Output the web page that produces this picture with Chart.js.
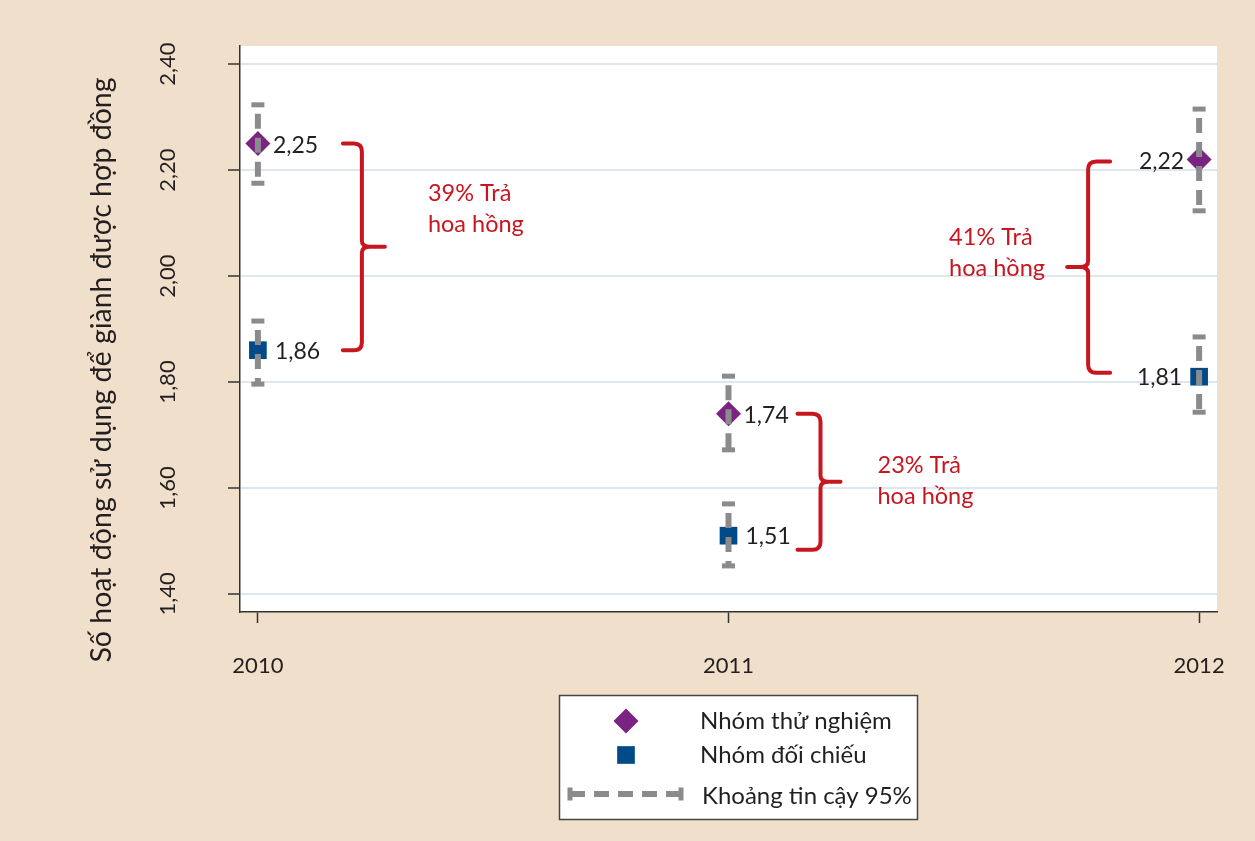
<!DOCTYPE html>
<html>
<head>
<meta charset="utf-8">
<script src="https://cdn.jsdelivr.net/npm/chart.js@4.4.1/dist/chart.umd.min.js"></script>
<style>
    html, body { margin: 0; padding: 0; background: #f0dfca; }
    canvas { display: block; }
</style>
</head>
<body>
<canvas id="gapChart" width="1255" height="841"></canvas>
<script>
// Data
var years = [2010, 2011, 2012];
var treatment = [2.25, 1.74, 2.22];
var treatmentLow = [2.175, 1.672, 2.123];
var treatmentHigh = [2.323, 1.811, 2.315];
var control = [1.86, 1.51, 1.81];
var controlLow = [1.796, 1.453, 1.743];
var controlHigh = [1.915, 1.570, 1.885];
var yTicks = [1.4, 1.6, 1.8, 2.0, 2.2, 2.4];
var gapLabels = [['39% Trả', 'hoa hồng'], ['23% Trả', 'hoa hồng'], ['41% Trả', 'hoa hồng']];
var seriesNames = ['Nhóm thử nghiệm', 'Nhóm đối chiếu', 'Khoảng tin cậy 95%'];
var yTitle = 'Số hoạt động sử dụng để giành được hợp đồng';

var colors = {
    bg: '#f0dfca',
    purple: '#7b2382',
    navy: '#004b87',
    gray: '#8b8b8d',
    red: '#c8161f',
    grid: '#dde7ef',
    axis: '#333333',
    text: '#231f20'
};
var FONT = 'Lato, "Open Sans", sans-serif';

// pixel styling for the braces (offsets from the year position)
var braceStyle = [
    { start: 85, spine: 104, tip: 127, padTop: 0, padBot: 0, textX: 170, textY: [-53, -22] },
    { start: 69, spine: 92, tip: 112, padTop: 0, padBot: 14, textX: 149, textY: [-16, 15] },
    { start: -89, spine: -111, tip: -132, padTop: 2, padBot: -4, textX: -250, textY: [-30, 1] }
];
// point value labels: which side of the marker
var labelSide = [1, 1, -1];

function fmt(v) {
    return v.toFixed(2).replace('.', ',');
}

function drawInterval(ctx, x1, y1, x2, y2, dashOffset) {
    var len = Math.hypot(x2 - x1, y2 - y1);
    ctx.save();
    ctx.translate(x1, y1);
    ctx.rotate(Math.atan2(y2 - y1, x2 - x1));
    ctx.strokeStyle = colors.gray;
    ctx.fillStyle = colors.gray;
    ctx.lineWidth = 6;
    ctx.setLineDash([15, 9]);
    ctx.lineDashOffset = dashOffset;
    ctx.beginPath();
    ctx.moveTo(0, 0);
    ctx.lineTo(len, 0);
    ctx.stroke();
    ctx.fillRect(-2.5, -6.5, 5, 13);
    ctx.fillRect(len - 2.5, -6.5, 5, 13);
    ctx.restore();
}

function drawBrace(ctx, xStart, xSpine, xTip, yTop, yBot) {
    var d = xSpine > xStart ? 1 : -1;
    var r = 8;
    var mid = (yTop + yBot) / 2;
    ctx.save();
    ctx.strokeStyle = colors.red;
    ctx.lineWidth = 4;
    ctx.lineCap = 'round';
    ctx.lineJoin = 'round';
    ctx.beginPath();
    ctx.moveTo(xStart, yTop);
    ctx.lineTo(xSpine - d * r, yTop);
    ctx.quadraticCurveTo(xSpine, yTop, xSpine, yTop + r);
    ctx.lineTo(xSpine, mid - 6);
    ctx.quadraticCurveTo(xSpine, mid, xSpine + d * 8, mid);
    ctx.lineTo(xTip, mid);
    ctx.moveTo(xSpine + d * 8, mid);
    ctx.quadraticCurveTo(xSpine, mid, xSpine, mid + 6);
    ctx.lineTo(xSpine, yBot - r);
    ctx.quadraticCurveTo(xSpine, yBot, xSpine - d * r, yBot);
    ctx.lineTo(xStart, yBot);
    ctx.stroke();
    ctx.restore();
}

var backgroundPlugin = {
    id: 'background',
    beforeDraw: function (chart) {
        var ctx = chart.ctx;
        var a = chart.chartArea;
        ctx.save();
        ctx.fillStyle = colors.bg;
        ctx.fillRect(0, 0, chart.width, chart.height);
        ctx.fillStyle = '#ffffff';
        ctx.fillRect(a.left, a.top, a.right - a.left, a.bottom - a.top);
        ctx.restore();
    }
};

var overlayPlugin = {
    id: 'overlay',
    afterDatasetsDraw: function (chart) {
        var ctx = chart.ctx;
        var xs = chart.scales.x;
        var ys = chart.scales.y;

        // confidence intervals, drawn over the markers
        years.forEach(function (yr, i) {
            var px = xs.getPixelForValue(yr);
            drawInterval(ctx, px, ys.getPixelForValue(treatmentHigh[i]), px, ys.getPixelForValue(treatmentLow[i]), 15);
            drawInterval(ctx, px, ys.getPixelForValue(controlHigh[i]), px, ys.getPixelForValue(controlLow[i]), 15);
        });

        // value labels
        ctx.save();
        ctx.font = '23px ' + FONT;
        ctx.fillStyle = colors.text;
        ctx.textBaseline = 'middle';
        years.forEach(function (yr, i) {
            var px = xs.getPixelForValue(yr);
            var side = labelSide[i];
            ctx.textAlign = side > 0 ? 'left' : 'right';
            ctx.fillText(fmt(treatment[i]), px + side * 15, ys.getPixelForValue(treatment[i]) + 2);
            ctx.fillText(fmt(control[i]), px + side * 17, ys.getPixelForValue(control[i]) + 1);
        });
        ctx.restore();

        // braces with the gap text
        years.forEach(function (yr, i) {
            var s = braceStyle[i];
            var px = xs.getPixelForValue(yr);
            var yTop = ys.getPixelForValue(treatment[i]) + s.padTop;
            var yBot = ys.getPixelForValue(control[i]) + s.padBot;
            drawBrace(ctx, px + s.start, px + s.spine, px + s.tip, yTop, yBot);
            var mid = (yTop + yBot) / 2;
            ctx.save();
            ctx.font = '23.5px ' + FONT;
            ctx.fillStyle = colors.red;
            ctx.textAlign = 'left';
            ctx.textBaseline = 'middle';
            gapLabels[i].forEach(function (line, k) {
                ctx.fillText(line, px + s.textX, mid + s.textY[k]);
            });
            ctx.restore();
        });
    },
    afterDraw: function (chart) {
        var ctx = chart.ctx;
        var dsets = chart.data.datasets;

        // y axis title
        ctx.save();
        ctx.translate(102, 370);
        ctx.rotate(-Math.PI / 2);
        ctx.font = '28.5px ' + FONT;
        ctx.fillStyle = colors.text;
        ctx.textAlign = 'center';
        ctx.textBaseline = 'middle';
        ctx.fillText(yTitle, 0, 0);
        ctx.restore();

        // legend box
        ctx.save();
        ctx.fillStyle = '#ffffff';
        ctx.fillRect(559, 695, 359, 125);
        ctx.strokeStyle = '#444444';
        ctx.lineWidth = 1.5;
        ctx.strokeRect(559.5, 695.5, 358, 124);

        var rows = [721, 755, 796];
        dsets.forEach(function (ds, i) {
            ctx.fillStyle = ds.backgroundColor;
            ctx.strokeStyle = ds.borderColor;
            Chart.helpers.drawPoint(ctx, {
                pointStyle: ds.pointStyle,
                radius: ds.pointRadius,
                rotation: 0,
                borderWidth: 0
            }, 626, rows[i]);
        });
        drawInterval(ctx, 570, 794, 681, 794, 0);

        ctx.font = '24px ' + FONT;
        ctx.fillStyle = colors.text;
        ctx.textAlign = 'left';
        ctx.textBaseline = 'middle';
        ctx.fillText(seriesNames[0], 700, rows[0]);
        ctx.fillText(seriesNames[1], 700, rows[1]);
        ctx.fillText(seriesNames[2], 702, rows[2]);
        ctx.restore();
    }
};

var ctx = document.getElementById('gapChart');
new Chart(ctx, {
    type: 'scatter',
    data: {
        datasets: [{
            label: seriesNames[0],
            data: years.map(function (yr, i) { return { x: yr, y: treatment[i] }; }),
            pointStyle: 'rectRot',
            pointRadius: 12.5,
            backgroundColor: colors.purple,
            borderColor: colors.purple,
            borderWidth: 0
        }, {
            label: seriesNames[1],
            data: years.map(function (yr, i) { return { x: yr, y: control[i] }; }),
            pointStyle: 'rect',
            pointRadius: 12.5,
            backgroundColor: colors.navy,
            borderColor: colors.navy,
            borderWidth: 0
        }]
    },
    options: {
        responsive: false,
        animation: false,
        events: [],
        layout: {
            padding: { top: 46, right: 38, left: 0, bottom: 0 }
        },
        plugins: {
            legend: { display: false },
            tooltip: { enabled: false }
        },
        scales: {
            x: {
                type: 'linear',
                min: 2009.962,
                max: 2012.038,
                afterBuildTicks: function (scale) {
                    scale.ticks = years.map(function (v) { return { value: v }; });
                },
                afterFit: function (scale) {
                    scale.height = 229;
                    scale.paddingLeft = 0;
                    scale.paddingRight = 0;
                },
                grid: {
                    drawOnChartArea: false,
                    drawTicks: true,
                    tickLength: 11,
                    tickColor: colors.axis,
                    tickWidth: 1.5
                },
                border: { display: true, color: colors.axis, width: 1.5 },
                ticks: {
                    padding: 30,
                    autoSkip: false,
                    maxRotation: 0,
                    color: colors.text,
                    font: { family: FONT, size: 22 },
                    callback: function (v) { return String(v); }
                }
            },
            y: {
                type: 'linear',
                min: 1.366,
                max: 2.434,
                afterBuildTicks: function (scale) {
                    scale.ticks = yTicks.map(function (v) { return { value: v }; });
                },
                afterFit: function (scale) {
                    scale.width = 240;
                    scale.paddingTop = 0;
                    scale.paddingBottom = 0;
                },
                grid: {
                    color: colors.grid,
                    lineWidth: 2,
                    tickLength: 12,
                    tickColor: colors.axis,
                    tickWidth: 1.5
                },
                border: { display: true, color: colors.axis, width: 1.5 },
                ticks: {
                    minRotation: 90,
                    maxRotation: 90,
                    crossAlign: 'center',
                    padding: 38,
                    color: colors.text,
                    font: { family: FONT, size: 22 },
                    callback: function (v) { return fmt(v); }
                }
            }
        }
    },
    plugins: [backgroundPlugin, overlayPlugin]
});
</script>
</body>
</html>
